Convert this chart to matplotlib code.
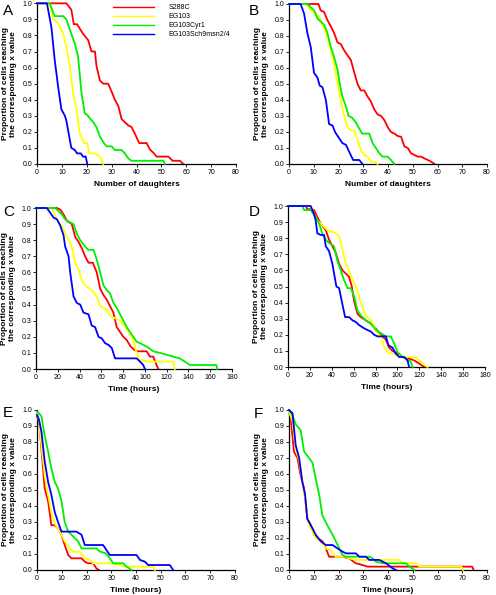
import matplotlib
matplotlib.use("Agg")
import matplotlib.pyplot as plt
from matplotlib.lines import Line2D

plt.rcParams['font.family'] = ['Liberation Sans', 'DejaVu Sans']

strains = ["S288C", "EG103", "EG103Cyr1", "EG103Sch9msn2/4"]
colors = ["#ff0000", "#ffff00", "#00ee00", "#0000ff"]
panel_letters = ["A", "B", "C", "D", "E", "F"]
xlabels = ["Number of daughters", "Number of daughters", "Time (hours)",
           "Time (hours)", "Time (hours)", "Time (hours)"]
xmax = [80, 80, 180, 180, 80, 80]
xstep = [10, 10, 20, 20, 10, 10]
ylabel = "Proportion of cells reaching\nthe corresponding x value"

# ---------------- Panel A ----------------
a_s288c_x = [0, 9.8, 11.8, 13.8, 14.8, 16.1, 18.5, 20.6, 21.9, 23.3, 23.9, 25.3, 26.6, 28.6, 30, 31.3, 32.7, 34, 36.7, 38, 39.3, 41.1, 44.1, 45.4, 46.8, 48.1, 52.8, 54.5, 57.5, 58.8]
a_s288c_y = [1, 1, 1, 0.96, 0.87, 0.87, 0.81, 0.77, 0.70, 0.70, 0.61, 0.52, 0.50, 0.50, 0.45, 0.40, 0.36, 0.28, 0.24, 0.23, 0.19, 0.13, 0.13, 0.09, 0.07, 0.046, 0.046, 0.02, 0.02, 0]
a_eg103_x = [0, 5.1, 6.5, 8.5, 10.5, 11.8, 13.2, 14.5, 15.9, 17.2, 19.0, 20.2, 21.0, 23.3, 25.3, 26.6]
a_eg103_y = [1, 1, 0.90, 0.875, 0.81, 0.73, 0.61, 0.44, 0.34, 0.19, 0.13, 0.13, 0.066, 0.066, 0.046, 0]
a_cyr1_x = [0, 5.1, 7.1, 8.5, 10.5, 11.8, 13.8, 15.2, 16.5, 17.9, 19.2, 20.2, 21.2, 22.6, 23.9, 25.3, 26.9, 28, 30, 31.3, 34, 35.3, 36.7, 38, 50.8, 51.5]
a_cyr1_y = [1, 1, 0.92, 0.92, 0.92, 0.90, 0.81, 0.75, 0.67, 0.44, 0.315, 0.305, 0.285, 0.26, 0.23, 0.17, 0.13, 0.11, 0.11, 0.087, 0.087, 0.066, 0.035, 0.02, 0.02, 0]
a_sch9_x = [0, 4.0, 5.8, 7.1, 8.5, 9.8, 11.2, 11.8, 13.2, 13.8, 15.2, 16.1, 17.6, 18.5, 19.6, 20.2]
a_sch9_y = [1, 1, 0.85, 0.65, 0.48, 0.34, 0.30, 0.27, 0.15, 0.10, 0.087, 0.066, 0.066, 0.046, 0.046, 0]

# ---------------- Panel B ----------------
b_s288c_x = [0, 11.9, 12.8, 14.2, 15.5, 16.9, 18.2, 19.6, 20.9, 22.3, 23.6, 25, 26.4, 27.7, 29, 30.4, 31.8, 33.1, 34.5, 35.8, 37.2, 38.5, 39.9, 41.2, 42.6, 43.9, 45.3, 46.6, 48, 49.3, 50.7, 52, 53.4, 54.7, 56.1, 57.4, 58.8]
b_s288c_y = [1, 1, 0.96, 0.95, 0.90, 0.86, 0.82, 0.76, 0.75, 0.71, 0.68, 0.65, 0.57, 0.50, 0.46, 0.46, 0.42, 0.39, 0.34, 0.31, 0.30, 0.275, 0.23, 0.20, 0.19, 0.175, 0.17, 0.11, 0.10, 0.067, 0.056, 0.046, 0.046, 0.035, 0.025, 0.015, 0]
b_eg103_x = [0, 6.8, 8.1, 9.5, 11.1, 12.8, 14.9, 16.9, 18.2, 19.6, 20.9, 22.3, 23.6, 25, 26.4, 27.7, 29, 30.4, 31.8, 33.1, 34.5, 35.8]
b_eg103_y = [1, 1, 0.98, 0.95, 0.94, 0.90, 0.82, 0.71, 0.63, 0.50, 0.40, 0.30, 0.23, 0.21, 0.21, 0.15, 0.088, 0.056, 0.046, 0.015, 0.015, 0]
b_cyr1_x = [0, 7.4, 8.8, 10.1, 11.5, 12.8, 14.2, 15.5, 16.9, 18.2, 19.6, 20.5, 21.6, 23, 24.1, 25.4, 26.8, 28.1, 29.5, 32.4, 33.8, 35.1, 36.5, 37.8, 39.9, 41.2, 42.6]
b_cyr1_y = [1, 1, 0.98, 0.96, 0.91, 0.89, 0.87, 0.82, 0.73, 0.67, 0.59, 0.50, 0.42, 0.36, 0.30, 0.29, 0.265, 0.23, 0.19, 0.19, 0.13, 0.10, 0.067, 0.046, 0.046, 0.025, 0]
b_sch9_x = [0, 4.7, 6.1, 7.4, 8.8, 10.1, 11.5, 12.4, 13.5, 14.9, 16.2, 17.6, 18.6, 20.3, 21.6, 23, 24.3, 25.9, 28.4, 29.7]
b_sch9_y = [1, 1, 0.94, 0.82, 0.73, 0.57, 0.54, 0.49, 0.48, 0.40, 0.25, 0.24, 0.20, 0.16, 0.13, 0.12, 0.077, 0.025, 0.025, 0]

# ---------------- Panel C ----------------
c_s288c_x = [0, 19.2, 22.3, 25.3, 28.4, 32.9, 36, 39, 42.1, 45.1, 48.2, 52.2, 55.8, 58.9, 61.9, 65, 68, 71.1, 74.1, 77.2, 80.2, 83.3, 86.9, 90, 93, 101.6, 104.7, 107.7, 110.1, 112.3]
c_s288c_y = [1, 1, 0.99, 0.96, 0.92, 0.90, 0.82, 0.79, 0.75, 0.70, 0.66, 0.66, 0.60, 0.50, 0.46, 0.43, 0.39, 0.35, 0.26, 0.23, 0.20, 0.18, 0.14, 0.12, 0.11, 0.11, 0.077, 0.077, 0.035, 0]
c_eg103_x = [0, 14.6, 17.7, 20.7, 23.8, 26.8, 29.9, 32.9, 36, 39, 42.1, 45.1, 51.2, 55.8, 58.9, 65, 68, 71.1, 77.2, 81.8, 86.3, 89.4, 92.4, 94.9, 98.5, 101.6, 126, 127.5]
c_eg103_y = [1, 1, 0.95, 0.91, 0.89, 0.84, 0.80, 0.76, 0.66, 0.62, 0.55, 0.52, 0.49, 0.45, 0.39, 0.37, 0.33, 0.32, 0.30, 0.26, 0.22, 0.18, 0.10, 0.056, 0.056, 0.046, 0.046, 0]
c_cyr1_x = [0, 17.7, 20.7, 23.8, 26.8, 31.4, 34.5, 37.5, 40.6, 45.1, 48.2, 52.8, 55.8, 58.9, 61.9, 65, 68, 71.1, 74.1, 77.2, 80.2, 83.3, 86.3, 89.4, 92.4, 95.5, 101.6, 107.7, 113.8, 126, 132, 136.7, 141.2, 165.6, 166.6]
c_cyr1_y = [1, 1, 0.98, 0.96, 0.93, 0.91, 0.90, 0.84, 0.80, 0.76, 0.74, 0.74, 0.68, 0.60, 0.52, 0.49, 0.47, 0.41, 0.38, 0.34, 0.30, 0.26, 0.23, 0.20, 0.17, 0.16, 0.14, 0.11, 0.10, 0.077, 0.066, 0.046, 0.025, 0.025, 0]
c_sch9_x = [0, 10, 13.1, 16.2, 19.2, 22.3, 25.3, 26.8, 29.9, 31.4, 34.5, 37.5, 40.6, 43.6, 48.2, 51.2, 54.3, 57.4, 60.4, 63.5, 66.5, 69.6, 72.6, 75.7, 92.4, 95.5, 98.5, 100]
c_sch9_y = [1, 1, 0.97, 0.94, 0.93, 0.89, 0.83, 0.76, 0.70, 0.60, 0.45, 0.41, 0.40, 0.35, 0.34, 0.27, 0.26, 0.20, 0.19, 0.16, 0.15, 0.13, 0.066, 0.066, 0.066, 0.046, 0.025, 0]

# ---------------- Panel D ----------------
d_s288c_x = [0, 16.2, 17.7, 20.7, 23.8, 26.8, 29.9, 34.5, 37.5, 40.6, 43.6, 46.7, 49.8, 52.8, 55.8, 58.3, 60.4, 63.5, 66.5, 71.1, 75.7, 80.2, 83.3, 86.3, 89.4, 92.4, 95.5, 100.1, 104.6, 110.7, 115.3, 119.9, 124.5]
d_s288c_y = [1, 1, 0.98, 0.98, 0.975, 0.93, 0.89, 0.85, 0.79, 0.75, 0.71, 0.64, 0.60, 0.58, 0.56, 0.50, 0.41, 0.33, 0.31, 0.29, 0.27, 0.24, 0.21, 0.19, 0.17, 0.12, 0.10, 0.083, 0.062, 0.052, 0.041, 0.021, 0]
d_eg103_x = [0, 20.7, 23.8, 26.8, 29.9, 33, 36, 40.6, 43.6, 46.7, 49.8, 52.8, 55.8, 58.9, 61.9, 65, 68, 71.1, 75.7, 78.8, 81.8, 84.9, 88, 91, 95.5, 100.1, 107.7, 116.8, 119.9, 122.9, 127.5]
d_eg103_y = [1, 1, 0.95, 0.91, 0.89, 0.87, 0.85, 0.84, 0.83, 0.81, 0.73, 0.64, 0.60, 0.54, 0.50, 0.44, 0.37, 0.32, 0.29, 0.25, 0.21, 0.19, 0.12, 0.093, 0.083, 0.073, 0.062, 0.062, 0.041, 0.021, 0]
d_cyr1_x = [0, 13.1, 14.6, 20.7, 25.3, 28.4, 31.4, 34.5, 37.5, 42.1, 45.1, 48.2, 51.2, 54.3, 57.4, 60.4, 63.5, 66.5, 71.1, 75.7, 80.2, 84.9, 89.4, 94, 97, 100.1, 104.6, 107.7, 112.3, 113.8]
d_cyr1_y = [1, 1, 0.975, 0.975, 0.93, 0.89, 0.83, 0.79, 0.77, 0.75, 0.66, 0.60, 0.54, 0.49, 0.49, 0.44, 0.35, 0.32, 0.29, 0.27, 0.23, 0.21, 0.19, 0.19, 0.145, 0.093, 0.062, 0.052, 0.031, 0]
d_sch9_x = [0, 20.7, 23.8, 25.3, 26.8, 29.9, 33, 34.5, 37.5, 40.6, 42.1, 44.2, 46.7, 48.2, 50.3, 52.2, 55.8, 58.9, 61.9, 65, 69.6, 72.6, 75.7, 78.8, 81.8, 89.4, 91.8, 95.5, 98.5, 101.6, 106.2, 109.2, 110.7]
d_sch9_y = [1, 1, 0.95, 0.91, 0.83, 0.82, 0.82, 0.75, 0.72, 0.64, 0.58, 0.50, 0.49, 0.44, 0.37, 0.31, 0.31, 0.29, 0.28, 0.26, 0.24, 0.23, 0.22, 0.20, 0.19, 0.19, 0.135, 0.12, 0.083, 0.062, 0.062, 0.041, 0]

# ---------------- Panel E ----------------
e_s288c_x = [0, 0.4, 1.1, 2.2, 3.1, 4.5, 5.8, 7.2, 8.5, 9.9, 11.2, 12.6, 13.9, 18, 19.3, 20.6, 22.7, 24, 25]
e_s288c_y = [0.96, 0.95, 0.885, 0.68, 0.51, 0.43, 0.28, 0.28, 0.26, 0.22, 0.156, 0.094, 0.073, 0.073, 0.052, 0.042, 0.042, 0.01, 0]
e_eg103_x = [0, 0.8, 1.8, 3.1, 4.5, 5.8, 7.2, 9.2, 11.2, 13.2, 14.6, 17.3, 19.3, 21.3, 22.7, 29.4, 33.5, 35.5, 47, 47.6]
e_eg103_y = [0.98, 0.93, 0.78, 0.59, 0.47, 0.36, 0.29, 0.24, 0.18, 0.135, 0.115, 0.115, 0.073, 0.063, 0.042, 0.042, 0.031, 0.021, 0.021, 0]
e_cyr1_x = [0, 0.8, 1.8, 3.1, 4.5, 5.8, 7.2, 8.5, 9.9, 11.2, 12.6, 14.6, 16.6, 18, 24, 25.4, 27.8, 29.4, 30.8, 34.8, 36.2, 38.2]
e_cyr1_y = [0.99, 0.98, 0.96, 0.84, 0.74, 0.635, 0.55, 0.51, 0.43, 0.30, 0.24, 0.21, 0.18, 0.135, 0.135, 0.115, 0.104, 0.073, 0.042, 0.042, 0.021, 0]
e_sch9_x = [0, 0.8, 1.8, 3.1, 4.5, 5.8, 7.2, 8.5, 9.9, 15.9, 18, 19.3, 26.7, 29.4, 40.2, 41.6, 43.6, 44.9, 53.7, 55]
e_sch9_y = [0.97, 0.94, 0.865, 0.68, 0.55, 0.47, 0.36, 0.30, 0.24, 0.24, 0.22, 0.156, 0.156, 0.094, 0.094, 0.063, 0.052, 0.031, 0.031, 0]

# ---------------- Panel F ----------------
f_s288c_x = [0, 0.7, 2, 3.4, 4.7, 6.1, 7.4, 8.8, 10.1, 11.5, 13.5, 14.9, 16.2, 21.6, 24.3, 27, 29.7, 31.8, 68.9, 74, 74.6]
f_s288c_y = [0.99, 0.95, 0.74, 0.70, 0.59, 0.51, 0.32, 0.28, 0.22, 0.20, 0.18, 0.135, 0.083, 0.083, 0.073, 0.042, 0.031, 0.021, 0.021, 0.021, 0]
f_eg103_x = [0, 1.4, 2.7, 4.1, 5.4, 6.8, 8.1, 9.5, 10.8, 12.8, 14.9, 16.9, 18.9, 23, 24.3, 27, 44.6, 45.9, 51.4, 52.7, 69.6, 70.3]
f_eg103_y = [0.99, 0.93, 0.76, 0.68, 0.55, 0.41, 0.28, 0.24, 0.20, 0.18, 0.135, 0.125, 0.083, 0.083, 0.073, 0.063, 0.063, 0.042, 0.042, 0.021, 0.021, 0]
f_cyr1_x = [0, 1.4, 2.7, 4.7, 6.1, 8.1, 9.5, 10.8, 12.2, 13.5, 15.5, 17.6, 18.9, 20.3, 21.6, 23, 32.4, 33.8, 35.1, 37.8, 47.3, 48.6, 50.7]
f_cyr1_y = [1.0, 0.97, 0.91, 0.875, 0.74, 0.70, 0.67, 0.57, 0.47, 0.34, 0.28, 0.22, 0.18, 0.135, 0.094, 0.083, 0.083, 0.073, 0.052, 0.042, 0.042, 0.021, 0]
f_sch9_x = [0, 1.4, 2.7, 4.1, 5.4, 6.5, 7.4, 9.5, 10.8, 12.8, 14.9, 17.6, 19.6, 21.6, 23, 27, 28.4, 31.1, 32.4, 36.5, 39.2, 41.9, 43.2]
f_sch9_y = [1.0, 0.98, 0.78, 0.70, 0.55, 0.47, 0.32, 0.26, 0.22, 0.18, 0.156, 0.156, 0.135, 0.115, 0.104, 0.104, 0.083, 0.083, 0.063, 0.063, 0.042, 0.01, 0]

panels = [
    [(a_s288c_x, a_s288c_y), (a_eg103_x, a_eg103_y), (a_cyr1_x, a_cyr1_y), (a_sch9_x, a_sch9_y)],
    [(b_s288c_x, b_s288c_y), (b_eg103_x, b_eg103_y), (b_cyr1_x, b_cyr1_y), (b_sch9_x, b_sch9_y)],
    [(c_s288c_x, c_s288c_y), (c_eg103_x, c_eg103_y), (c_cyr1_x, c_cyr1_y), (c_sch9_x, c_sch9_y)],
    [(d_s288c_x, d_s288c_y), (d_eg103_x, d_eg103_y), (d_cyr1_x, d_cyr1_y), (d_sch9_x, d_sch9_y)],
    [(e_s288c_x, e_s288c_y), (e_eg103_x, e_eg103_y), (e_cyr1_x, e_cyr1_y), (e_sch9_x, e_sch9_y)],
    [(f_s288c_x, f_s288c_y), (f_eg103_x, f_eg103_y), (f_cyr1_x, f_cyr1_y), (f_sch9_x, f_sch9_y)],
]

W, H = 496, 595
# axes boxes in pixels: left, top, right, bottom
boxes = [
    (37, 3.3, 236, 164),
    (289, 4, 487, 164),
    (36, 208, 232, 369),
    (288, 206, 485, 367),
    (37, 410, 235, 570),
    (289, 410, 487, 570),
]
# panel letter positions (pixels, left / top)
letter_pos = [(3, 4), (249, 4), (3, 205), (249, 205), (3, 406), (254, 407)]

fig = plt.figure(figsize=(W / 100, H / 100), dpi=100)

for i, (l, t, r, b) in enumerate(boxes):
    ax = fig.add_axes([l / W, 1 - b / H, (r - l) / W, (b - t) / H])
    for j, (xs, ys) in enumerate(panels[i]):
        ax.plot(xs, ys, color=colors[j], lw=1.3, zorder=2 + j, clip_on=False)
    ax.set_xlim(0, xmax[i])
    ax.set_ylim(0, 1)
    ax.set_xticks(range(0, xmax[i] + 1, xstep[i]))
    ax.set_yticks([k / 10 for k in range(11)])
    ax.set_yticklabels([f"{k / 10:.1f}" for k in range(11)])
    ax.tick_params(labelsize=5, length=2, width=0.6, pad=1.5, colors='black')
    for s in ("top", "right"):
        ax.spines[s].set_visible(False)
    for s in ("left", "bottom"):
        ax.spines[s].set_linewidth(0.9)
    ax.set_xlabel(xlabels[i], fontsize=6, fontweight='bold', labelpad=4)
    ax.set_ylabel(ylabel, fontsize=6, fontweight='bold', labelpad=4, linespacing=1.2)
    lx, ly = letter_pos[i]
    fig.text(lx / W, 1 - ly / H, panel_letters[i], fontsize=11, ha='left', va='top')
    if i == 0:
        handles = [Line2D([], [], color=c, lw=1.0) for c in colors]
        ax.legend(handles, strains, loc='upper left', bbox_to_anchor=(0.38, 0.995),
                  frameon=False, fontsize=5, handlelength=6.0, handletextpad=2.0,
                  labelspacing=0.28, borderpad=0, borderaxespad=0)

fig.savefig("out.png", dpi=100)
